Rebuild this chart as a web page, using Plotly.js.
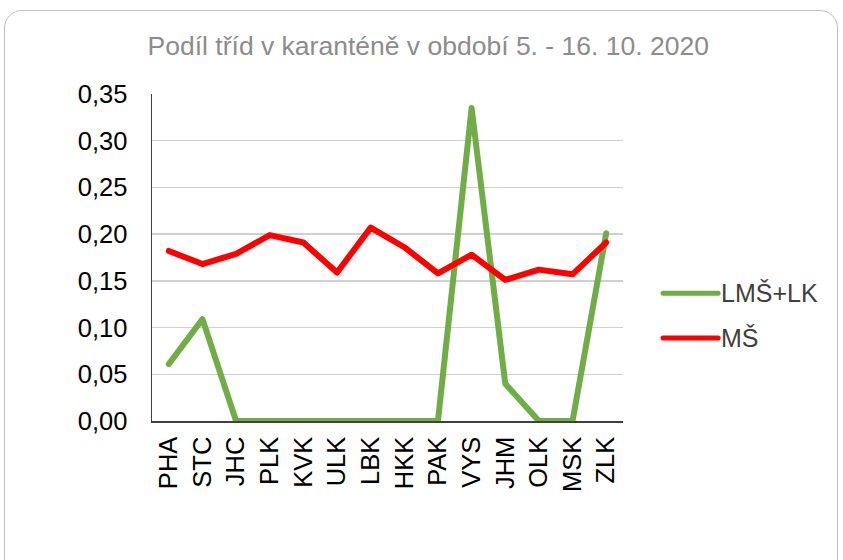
<!DOCTYPE html>
<html>
<head>
<meta charset="utf-8">
<script src="https://cdn.plot.ly/plotly-3.0.1.min.js"></script>
<style>
html,body{margin:0;padding:0;background:#fff;}
#wrap{position:relative;width:843px;height:560px;overflow:hidden;}
#chart{position:absolute;left:0;top:0;width:843px;height:560px;}
#frame{position:absolute;left:4px;top:10px;width:834px;height:600px;border:1px solid #bfbfbf;border-radius:18px;pointer-events:none;box-sizing:border-box;}
.scatterlayer path.js-line{stroke-linejoin:round;stroke-linecap:round;}
.layer-above path, .layer-below path{stroke-linecap:round;}
</style>
</head>
<body>
<div id="wrap"><div id="chart"></div><div id="frame"></div></div>
<script>
const categories = ["PHA","STC","JHC","PLK","KVK","ULK","LBK","HKK","PAK","VYS","JHM","OLK","MSK","ZLK"];
const lmsLk = [0.061,0.109,0,0,0,0,0,0,0,0.335,0.040,0,0,0.201];
const ms = [0.182,0.168,0.179,0.199,0.191,0.159,0.207,0.186,0.158,0.178,0.151,0.162,0.157,0.191];
const yTicks = [0,0.05,0.10,0.15,0.20,0.25,0.30,0.35];
const seriesNames = ["LMŠ+LK","MŠ"];
const seriesColors = ["#70AD47","#FF0000"];

const traces = [
  {x: categories, y: lmsLk, type: 'scatter', mode: 'lines', name: seriesNames[0],
   line: {color: seriesColors[0], width: 6}},
  {x: categories, y: ms, type: 'scatter', mode: 'lines', name: seriesNames[1],
   line: {color: seriesColors[1], width: 6}}
];

// manual legend (longer line symbols as in the reference)
const legY = [0.391, 0.254];
const shapes = [], annotations = [];
seriesNames.forEach((n, i) => {
  shapes.push({type: 'line', xref: 'paper', yref: 'paper', x0: 1.085, x1: 1.202, y0: legY[i], y1: legY[i],
               line: {color: seriesColors[i], width: 5}});
  annotations.push({xref: 'paper', yref: 'paper', x: 1.204, y: legY[i], xanchor: 'left', yanchor: 'middle',
                    text: n, showarrow: false, font: {size: 25, color: '#404040'}});
});

const layout = {
  width: 843, height: 560,
  margin: {l: 152, r: 220, t: 94, b: 139},
  paper_bgcolor: 'rgba(0,0,0,0)', plot_bgcolor: '#fff',
  separators: ', ',
  font: {family: 'Arial, Liberation Sans, sans-serif', color: '#000'},
  title: {text: 'Podíl tříd v karanténě v období 5. - 16. 10. 2020',
          font: {size: 26.5, color: '#8c8c8c', family: 'Arial, Liberation Sans, sans-serif'},
          x: 0.508, xanchor: 'center', y: 0.918, yanchor: 'middle'},
  xaxis: {type: 'category', tickangle: -90, tickfont: {size: 25.5, color: '#000'},
          showgrid: false, showline: true, linecolor: '#404040', linewidth: 1.5,
          ticks: '', range: [-0.5, 13.5], fixedrange: true, ticklabelstandoff: 4},
  yaxis: {range: [0, 0.35], tickvals: yTicks, tickformat: '.2f',
          tickfont: {size: 25.5, color: '#000'}, showgrid: true, gridcolor: '#d0d0d0', gridwidth: 1.5,
          showline: true, linecolor: '#404040', linewidth: 1.5, zeroline: false, ticks: '',
          ticklabelstandoff: 18},
  showlegend: false,
  shapes: shapes,
  annotations: annotations
};

Plotly.newPlot('chart', traces, layout, {displayModeBar: false, staticPlot: true});
</script>
</body>
</html>
